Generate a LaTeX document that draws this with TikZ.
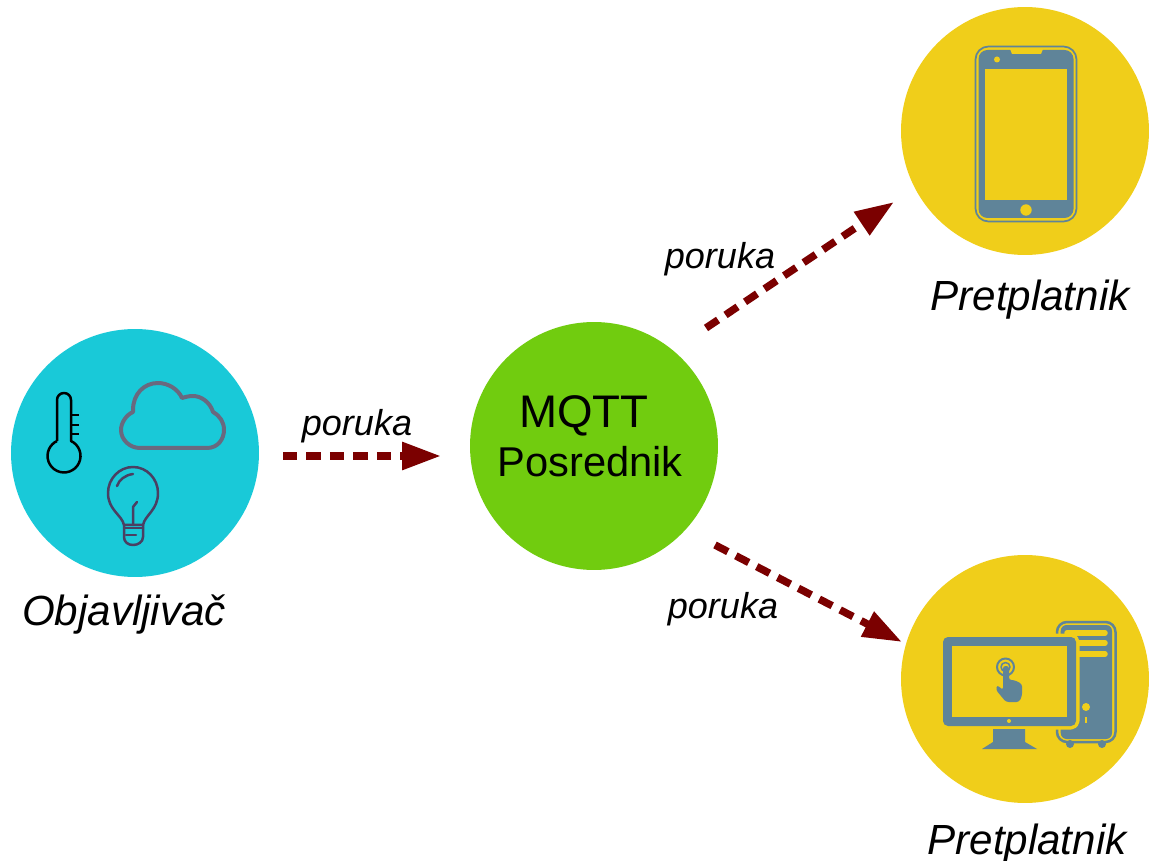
\documentclass[tikz,border=0pt]{standalone}
\usepackage{fontspec}
\setmainfont{Liberation Sans}
\usetikzlibrary{arrows.meta}
\definecolor{pubcyan}{HTML}{19C9D8}
\definecolor{brokergreen}{HTML}{71CC0F}
\definecolor{subyellow}{HTML}{F0CE1A}
\definecolor{msgred}{HTML}{7B0000}
\definecolor{iconblue}{HTML}{5F8499}
\definecolor{cloudgray}{HTML}{69697F}
\definecolor{bulbdark}{HTML}{4A3F62}
\tikzset{
  actor/.style={circle,minimum size=4.96cm,inner sep=0pt,draw=none},
  msgarrow/.style={line width=0.15cm,color=msgred,dash pattern=on 0.29cm off 0.18cm,-{Triangle[length=0.78cm,width=0.53cm]}},
  msglabel/.style={font=\fontsize{20.5}{24}\itshape},
  rolelabel/.style={font=\fontsize{24}{28}\itshape},
  brokerlabel/.style={font=\fontsize{23.7}{28}\selectfont}
}
\begin{document}
\begin{tikzpicture}[x=0.02cm,y=-0.02cm,line join=round]
    \useasboundingbox (0,0) rectangle (1150,861);
    \node[actor,fill=pubcyan] (pub) at (135,453) {};
    \node[actor,fill=brokergreen] (broker) at (594,446) {};
    \node[actor,fill=subyellow] (subphone) at (1025,131) {};
    \node[actor,fill=subyellow] (subpc) at (1025,679) {};
    \node[rolelabel] (publabel) at (124,615) {Objavljivač};
    \node[rolelabel] (phonelabel) at (1030,300) {Pretplatnik};
    \node[rolelabel] (pclabel) at (1027,844) {Pretplatnik};
    \node[font=\fontsize{26}{30}\selectfont] (mqtt) at (584,416) {MQTT};
    \node[brokerlabel] (posrednik) at (590,462) {Posrednik};
    \node[msglabel] (msga) at (357,426) {poruka};
    \node[msglabel] (msgb) at (720,259) {poruka};
    \node[msglabel] (msgc) at (723,609) {poruka};
    \coordinate (puba) at (283,456);
    \coordinate (brokerin) at (441,456);
    \coordinate (brokerb) at (706,328);
    \coordinate (phonein) at (894,202);
    \coordinate (brokerc) at (715,545);
    \coordinate (pcin) at (902,642);
    \draw[msgarrow] (puba) -- (brokerin);
    \draw[msgarrow] (brokerb) -- (phonein);
    \draw[msgarrow] (brokerc) -- (pcin);
    % thermometer
    \draw[line width=0.05cm,black] (57,441) -- (57,400) arc[start angle=180,end angle=360,radius=7] -- (71,441)
        arc[start angle=-65,end angle=245,radius=16.5];
    \foreach \y in {415,425,434} \draw[line width=0.05cm,black] (71,\y) -- (79,\y);
    % cloud
    \draw[line width=0.08cm,cloudgray] (140,448) -- (207,448) .. controls (218,448) and (224,439) .. (224,430)
        .. controls (224,422) and (220,416) .. (213,412) .. controls (210,402) and (201,396) .. (193,396)
        .. controls (189,396) and (185,397) .. (182,398) .. controls (178,389) and (168,383) .. (158,383)
        .. controls (144,383) and (133,394) .. (133,410) -- (133,412) .. controls (126,415) and (121,423) .. (121,430)
        .. controls (121,440) and (130,448) .. (140,448) -- cycle;
    % bulb
    \begin{scope}[line width=0.05cm,bulbdark,line cap=round]
        \draw (124,525) .. controls (122,515) and (108,510) .. (108,493) .. controls (108,479) and (119,467) .. (133,467)
            .. controls (147,467) and (158,479) .. (158,493) .. controls (158,510) and (145,515) .. (143,525) -- cycle;
        \draw (124,525) -- (124,537) .. controls (124,542) and (128,545) .. (133,545) .. controls (138,545) and (143,542) .. (143,537) -- (143,525);
        \draw (124,528) -- (143,528);
        \draw (126,535) -- (136,535);
        \draw (133,525) -- (133,507) -- (137,502);
        \draw (117,486) .. controls (119,480) and (125,475) .. (133,474);
    \end{scope}
    % phone
    \draw[line width=0.035cm,iconblue,rounded corners=0.26cm] (975.5,46.5) rectangle (1076.5,221.5);
    \fill[iconblue,rounded corners=0.18cm] (978.5,50) rectangle (1073.5,218);
    \fill[subyellow] (1010,49) -- (1043,49) -- (1041,54) -- (1012,54) -- cycle;
    \fill[subyellow] (985,69) rectangle (1067,200);
    \fill[subyellow] (1026,210) circle (5.7);
    \fill[subyellow] (997,59.5) circle (3);
    % tower
    \fill[iconblue] (1070,744) circle (4) (1102,744) circle (4);
    \draw[line width=0.05cm,iconblue,rounded corners=0.2cm] (1057,622) rectangle (1115.5,742);
    \fill[iconblue,rounded corners=0.12cm] (1060.7,625) rectangle (1112,739);
    \foreach \y in {633,643,654} \draw[line width=0.11cm,line cap=round,subyellow] (1067,\y) -- (1105,\y);
    \fill[subyellow] (1086,707) circle (4);
    \draw[line width=0.05cm,subyellow] (1086,717) -- (1086,723);
    % monitor
    \fill[iconblue,rounded corners=0.1cm,preaction={draw=subyellow,line width=0.14cm}] (943,637) rectangle (1076,726);
    \fill[subyellow] (952,646) rectangle (1067,717);
    \fill[subyellow] (1009,721) circle (2);
    \fill[iconblue] (993,729) -- (1025,729) -- (1025,742) -- (1037,749) -- (982,749) -- (993,742) -- cycle;
    % hand
    \draw[line width=0.04cm,iconblue] (1005.5,667) circle (8.5);
    \draw[line width=0.03cm,iconblue] (1005.5,667) circle (4.5);
    \fill[iconblue,rounded corners=0.05cm] (1003,666) -- (1009,666) -- (1009,680) -- (1014,680) -- (1022,684) -- (1022,696) -- (1019,702)
        -- (1006,702) -- (996,690) -- (997,685) -- (1003,690) -- cycle;
\end{tikzpicture}
\end{document}
